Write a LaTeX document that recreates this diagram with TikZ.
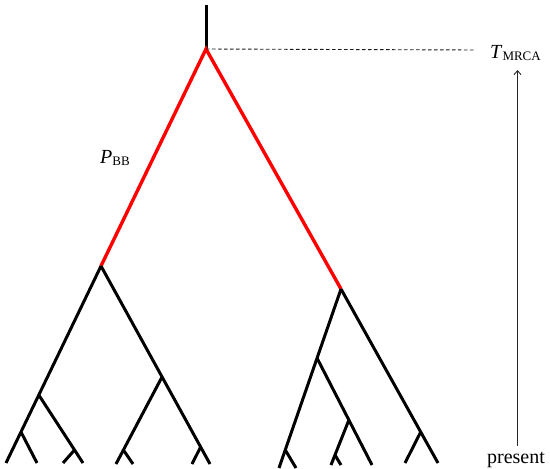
\documentclass[tikz,border=0pt]{standalone}
\usepackage{fontspec}
\setmainfont{Liberation Serif}
\usetikzlibrary{arrows.meta}
\begin{document}
\begin{tikzpicture}[x=1pt,y=-1pt,
  branch/.style={line width=3pt,black},
  redbranch/.style={line width=3.4pt,red},
  guide/.style={line width=0.9pt,dash pattern=on 3.5pt off 2.5pt,black!90},
  timearrow/.style={line width=0.9pt,black!85,-{Straight Barb[length=4pt,width=7pt]}},
  lbl/.style={inner sep=0pt,font=\fontsize{20}{24}\selectfont}]
\useasboundingbox (0,0) rectangle (550,469);
% key points
\coordinate (top) at (206,5);
\coordinate (mrca) at (206,49);
\coordinate (A) at (101,266);
\coordinate (H) at (341,289);
% left clade
\coordinate (l1) at (6,463);
\coordinate (B) at (38.8,395);
\coordinate (C) at (21,432);
\coordinate (l2) at (37,463);
\coordinate (l4) at (83,463);
\coordinate (D) at (74.5,450);
\coordinate (l3) at (63,463);
\coordinate (l8) at (210,464);
\coordinate (E) at (162,377);
\coordinate (G) at (200.6,447);
\coordinate (l7) at (192,464);
\coordinate (l5) at (116,464);
\coordinate (F) at (123.4,450);
\coordinate (l6) at (133,464);
% right clade
\coordinate (l9) at (279,468);
\coordinate (I) at (317,358);
\coordinate (J) at (285.3,450);
\coordinate (l10) at (296,468);
\coordinate (l13) at (372,465);
\coordinate (K) at (348.9,420);
\coordinate (l11) at (331,465);
\coordinate (L) at (335,455);
\coordinate (l12) at (341,465);
\coordinate (l15) at (438,463);
\coordinate (M) at (420.7,432);
\coordinate (l14) at (405,463);
% guide coordinates
\coordinate (dashend) at (475,50);
\coordinate (arstart) at (517.5,446);
\coordinate (arend) at (517.5,70);
% tree
\draw[branch] (top) -- (mrca);
\draw[redbranch] (A) -- (mrca) -- (H);
\draw[branch] (A) -- (l1);
\draw[branch] (C) -- (l2);
\draw[branch] (B) -- (l4);
\draw[branch] (D) -- (l3);
\draw[branch] (A) -- (l8);
\draw[branch] (G) -- (l7);
\draw[branch] (E) -- (l5);
\draw[branch] (F) -- (l6);
\draw[branch] (H) -- (l9);
\draw[branch] (J) -- (l10);
\draw[branch] (I) -- (l13);
\draw[branch] (K) -- (l11);
\draw[branch] (L) -- (l12);
\draw[branch] (H) -- (l15);
\draw[branch] (M) -- (l14);
% guides and labels
\draw[guide] (mrca) -- (dashend);
\draw[timearrow] (arstart) -- (arend);
\node[lbl,anchor=base west] (tm) at (490,58) {\textit{T}\raisebox{-0.3ex}{\fontsize{13}{13}\selectfont MRCA}};
\node[lbl,anchor=base west] (pbb) at (100,163) {\textit{P}\raisebox{-0.3ex}{\fontsize{13}{13}\selectfont BB}};
\node[lbl,anchor=base] (present) at (516,463) {present};
\end{tikzpicture}
\end{document}
